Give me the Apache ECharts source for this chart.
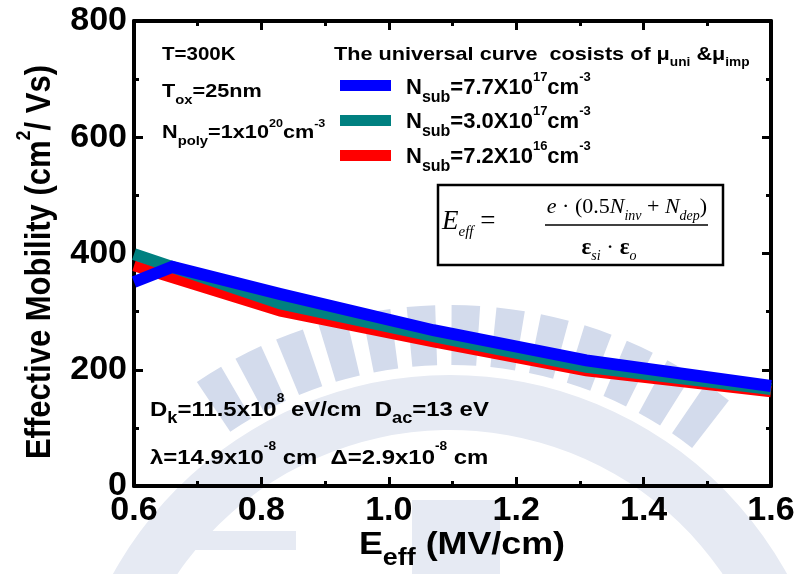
<!DOCTYPE html>
<html>
<head>
<meta charset="utf-8">
<script src="https://cdn.jsdelivr.net/npm/echarts@6/dist/echarts.min.js"></script>
<style>
  html, body { margin: 0; padding: 0; background: #fff; }
  #wrap { position: relative; width: 798px; height: 574px; }
  .layer { position: absolute; left: 0; top: 0; width: 798px; height: 574px; }
  #notes { pointer-events: none; }
</style>
</head>
<body>
<div id="wrap">
  <div class="layer" id="backdrop"></div>
  <div class="layer" id="chart"></div>
  <div class="layer" id="notes"></div>
</div>
<script>
// Effective mobility vs. effective field for three substrate dopings
const fieldBlue = [0.6, 0.66, 0.83, 1.07, 1.31, 1.6];
const mobBlue   = [351, 377, 330, 268, 216, 172];
const fieldTeal = [0.6, 0.83, 1.07, 1.31, 1.6];
const mobTeal   = [399, 314, 258, 205, 167];
const fieldRed  = [0.6, 0.83, 1.07, 1.31, 1.6];
const mobRed    = [379, 301, 248, 198, 162];

const seriesNames = ['Nsub=7.7X10^17', 'Nsub=3.0X10^17', 'Nsub=7.2X10^16'];
const legendRich = [
  '{m|N}{b|sub}{m|=7.7X10}{p|17}{m|cm}{p|-3}',
  '{m|N}{b|sub}{m|=3.0X10}{p|17}{m|cm}{p|-3}',
  '{m|N}{b|sub}{m|=7.2X10}{p|16}{m|cm}{p|-3}'
];
const lineColors = ['#0000ff', '#008080', '#ff0000'];

const xRange = [0.6, 1.6];
const xStep = 0.2;
const yRange = [0, 800];
const yStep = 200;

const SANS = '"Liberation Sans", Arial, sans-serif';
const SERIF = '"Liberation Serif", "Times New Roman", serif';
const EMBLEM = '#d3dbec';
const EMBLEM_LIGHT = '#e6eaf3';

function pairs(xs, ys) { return xs.map((x, i) => [x, ys[i]]); }

// rich styles for bold text with subscripts / superscripts
function richSet(base, sub, sup) {
  const L = Math.round(0.85 * base + sub);
  return {
    m: { fontFamily: SANS, fontWeight: 'bold', fontSize: base, lineHeight: L, verticalAlign: 'middle', color: '#000' },
    b: { fontFamily: SANS, fontWeight: 'bold', fontSize: sub, lineHeight: sub, verticalAlign: 'bottom', color: '#000' },
    p: { fontFamily: SANS, fontWeight: 'bold', fontSize: sup, lineHeight: sup, verticalAlign: 'top', color: '#000' }
  };
}

function label(x, y, text, rich, sx) {
  return {
    type: 'text', x: x, y: y, scaleX: sx || 1.14, z: 20,
    style: { text: text, rich: rich, align: 'left', verticalAlign: 'middle', fill: '#000' }
  };
}

// frame axis with inward major and minor ticks
function makeAxis(position, range, step, showLabels, fmt, margin) {
  return {
    type: 'value', position: position, min: range[0], max: range[1], interval: step,
    axisLine: { show: true, onZero: false, lineStyle: { color: '#000', width: 4 } },
    axisTick: { show: true, inside: true, length: 9, lineStyle: { color: '#000', width: 3 } },
    minorTick: { show: true, splitNumber: 2, length: 5, lineStyle: { color: '#000', width: 3 } },
    splitLine: { show: false },
    minorSplitLine: { show: false },
    axisLabel: showLabels ? {
      show: true, margin: margin, formatter: fmt,
      fontFamily: SANS, fontWeight: 'bold', fontSize: 34, color: '#000'
    } : { show: false }
  };
}

// faint background emblem: radial bars above an arc band
function emblem() {
  const cx = 450, cy = 760;
  const items = [];
  items.push({
    type: 'sector', silent: true,
    shape: { cx: cx, cy: cy, r0: 330, r: 385, startAngle: -Math.PI * 0.86, endAngle: -Math.PI * 0.1, clockwise: true },
    style: { fill: EMBLEM_LIGHT }
  });
  const n = 13;
  const a0 = -122 * Math.PI / 180, a1 = -54 * Math.PI / 180;
  const half = 1.8 * Math.PI / 180;
  for (let i = 0; i < n; i++) {
    const a = a0 + (a1 - a0) * i / (n - 1);
    items.push({
      type: 'sector', silent: true,
      shape: { cx: cx, cy: cy, r0: 395, r: 455, startAngle: a - half, endAngle: a + half, clockwise: true },
      style: { fill: EMBLEM }
    });
  }
  items.push({ type: 'rect', silent: true, shape: { x: 189, y: 531, width: 107, height: 19 }, style: { fill: EMBLEM_LIGHT } });
  items.push({ type: 'rect', silent: true, shape: { x: 412, y: 500, width: 88, height: 74 }, style: { fill: EMBLEM_LIGHT } });
  return items;
}

// legend swatches and labels
function legendItems() {
  const items = [];
  const swatchY = [80, 115, 150];
  const textY = [88, 122, 157];
  for (let i = 0; i < seriesNames.length; i++) {
    items.push({
      type: 'rect', z: 20,
      shape: { x: 340, y: swatchY[i], width: 51, height: 11 },
      style: { fill: lineColors[i] }
    });
    items.push(label(406, textY[i], legendRich[i], richSet(22, 16, 13), 1));
  }
  return items;
}

// backdrop layer
echarts.init(document.getElementById('backdrop')).setOption({
  backgroundColor: '#fff',
  animation: false,
  graphic: emblem()
});

// plot layer
echarts.init(document.getElementById('chart')).setOption({
  backgroundColor: 'transparent',
  animation: false,
  grid: { left: 134, right: 27, top: 21, bottom: 88 },
  xAxis: [
    makeAxis('bottom', xRange, xStep, true, v => v.toFixed(1), 8),
    makeAxis('top', xRange, xStep, false)
  ],
  yAxis: [
    makeAxis('left', yRange, yStep, true, v => String(v), 7),
    makeAxis('right', yRange, yStep, false)
  ],
  series: [
    {
      name: seriesNames[2], type: 'line', data: pairs(fieldRed, mobRed),
      showSymbol: false, color: lineColors[2], z: 2,
      lineStyle: { width: 11, color: lineColors[2], join: 'miter', cap: 'butt' }
    },
    {
      name: seriesNames[1], type: 'line', data: pairs(fieldTeal, mobTeal),
      showSymbol: false, color: lineColors[1], z: 3,
      lineStyle: { width: 12, color: lineColors[1], join: 'miter', cap: 'butt' }
    },
    {
      name: seriesNames[0], type: 'line', data: pairs(fieldBlue, mobBlue),
      showSymbol: false, color: lineColors[0], z: 4,
      lineStyle: { width: 12, color: lineColors[0], join: 'miter', cap: 'butt' }
    }
  ]
});

// annotation layer
echarts.init(document.getElementById('notes')).setOption({
  backgroundColor: 'transparent',
  animation: false,
  graphic: legendItems().concat([
    // axis titles
    {
      type: 'text', x: 40, y: 262, rotation: Math.PI / 2, scaleY: 1.12, z: 20,
      style: {
        text: '{m|Effective Mobility (cm}{p|2}{m|/ Vs)}',
        rich: richSet(31, 20, 18), align: 'center', verticalAlign: 'middle', fill: '#000'
      }
    },
    {
      type: 'text', x: 462, y: 545, scaleX: 1.12, z: 20,
      style: {
        text: '{m|E}{b|eff}{m| (MV/cm)}',
        rich: richSet(32, 24, 18), align: 'center', verticalAlign: 'middle', fill: '#000'
      }
    },
    // condition notes
    label(162, 55, '{m|T=300K}', richSet(18, 13, 11)),
    label(162, 92, '{m|T}{b|ox}{m|=25nm}', richSet(19, 13, 11)),
    label(162, 133, '{m|N}{b|poly}{m|=1x10}{p|20}{m|cm}{p|-3}', richSet(19, 13, 11)),
    label(334, 55, '{m|The universal curve  cosists of μ}{b|uni}{m| &μ}{b|imp}', richSet(19, 12, 11)),
    label(150, 410, '{m|D}{b|k}{m|=11.5x10}{p|8}{m| eV/cm  D}{b|ac}{m|=13 eV}', richSet(21, 16, 12)),
    label(150, 458, '{m|λ=14.9x10}{p|-8}{m| cm  Δ=2.9x10}{p|-8}{m| cm}', richSet(21, 16, 12)),
    // field definition box
    {
      type: 'rect', z: 15,
      shape: { x: 438, y: 185, width: 285, height: 80 },
      style: { fill: '#fff', stroke: '#000', lineWidth: 2.5 }
    },
    {
      type: 'text', x: 442, y: 222, z: 20,
      style: {
        text: '{i|E}{s|eff}{r| =}',
        rich: {
          i: { fontFamily: SERIF, fontStyle: 'italic', fontSize: 27, lineHeight: 36, verticalAlign: 'middle', color: '#000' },
          s: { fontFamily: SERIF, fontStyle: 'italic', fontSize: 15, lineHeight: 15, verticalAlign: 'bottom', color: '#000' },
          r: { fontFamily: SERIF, fontSize: 27, lineHeight: 36, verticalAlign: 'middle', color: '#000' }
        },
        align: 'left', verticalAlign: 'middle', fill: '#000'
      }
    },
    {
      type: 'text', x: 627, y: 207, z: 20,
      style: {
        text: '{i|e}{r| · (0.5}{i|N}{s|inv}{r| + }{i|N}{s|dep}{r|)}',
        rich: {
          i: { fontFamily: SERIF, fontStyle: 'italic', fontSize: 22, lineHeight: 32, verticalAlign: 'middle', color: '#000' },
          s: { fontFamily: SERIF, fontStyle: 'italic', fontSize: 14, lineHeight: 14, verticalAlign: 'bottom', color: '#000' },
          r: { fontFamily: SERIF, fontSize: 22, lineHeight: 32, verticalAlign: 'middle', color: '#000' }
        },
        align: 'center', verticalAlign: 'middle', fill: '#000'
      }
    },
    {
      type: 'line', z: 20,
      shape: { x1: 545, y1: 225, x2: 708, y2: 225 },
      style: { stroke: '#000', lineWidth: 1.5 }
    },
    {
      type: 'text', x: 609, y: 248, z: 20,
      style: {
        text: '{e|ε}{s|si}{r| · }{e|ε}{s|o}',
        rich: {
          e: { fontFamily: SERIF, fontWeight: 'bold', fontSize: 23, lineHeight: 30, verticalAlign: 'middle', color: '#000' },
          s: { fontFamily: SERIF, fontStyle: 'italic', fontSize: 14, lineHeight: 14, verticalAlign: 'bottom', color: '#000' },
          r: { fontFamily: SERIF, fontSize: 23, lineHeight: 30, verticalAlign: 'middle', color: '#000' }
        },
        align: 'center', verticalAlign: 'middle', fill: '#000'
      }
    }
  ])
});
</script>
</body>
</html>
